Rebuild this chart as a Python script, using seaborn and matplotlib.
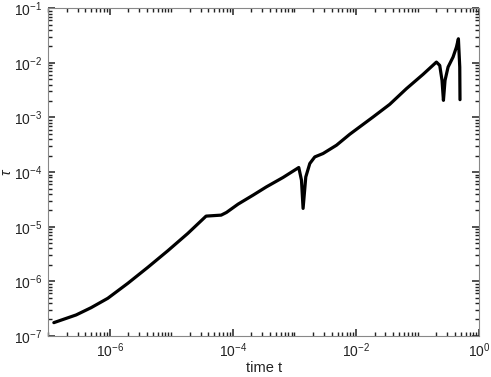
import numpy as np
import pandas as pd
import seaborn as sns
import matplotlib.pyplot as plt
from matplotlib.ticker import LogLocator, NullFormatter

# values (log10 of time t and of tau)
log_t = [-6.907, -6.545, -6.302, -6.031, -5.706, -5.381, -5.057, -4.732, -4.435,
         -4.190, -4.104, -3.916, -3.672, -3.455, -3.185, -2.930, -2.886, -2.860,
         -2.816, -2.751, -2.670, -2.536, -2.318, -2.102, -1.724, -1.453, -1.182,
         -0.912, -0.695, -0.641, -0.604, -0.581, -0.555, -0.506, -0.425, -0.370,
         -0.338, -0.316, -0.312]
log_tau = [-6.757, -6.616, -6.483, -6.311, -6.037, -5.744, -5.441, -5.123, -4.806,
           -4.788, -4.739, -4.587, -4.422, -4.270, -4.098, -3.916, -4.148, -4.665,
           -4.088, -3.843, -3.722, -3.660, -3.508, -3.307, -2.991, -2.759, -2.472,
           -2.210, -1.985, -2.046, -2.320, -2.686, -2.320, -2.077, -1.894, -1.711,
           -1.558, -2.077, -2.673]

df = pd.DataFrame({'t': np.power(10.0, log_t), 'tau': np.power(10.0, log_tau)})

sns.set_style('ticks', {'xtick.direction': 'in', 'ytick.direction': 'in'})
plt.rcParams['font.family'] = ['Liberation Sans', 'DejaVu Sans']
plt.rcParams['mathtext.fontset'] = 'custom'
plt.rcParams['mathtext.rm'] = 'Liberation Sans'
plt.rcParams['mathtext.it'] = 'Liberation Sans:italic'

fig, ax = plt.subplots(figsize=(4.91, 3.77), dpi=100)
fig.subplots_adjust(left=0.098, right=0.976, top=0.978, bottom=0.109)

sns.lineplot(data=df, x='t', y='tau', sort=False, estimator=None,
             color='black', linewidth=2.3, ax=ax)

ax.set_xscale('log')
ax.set_yscale('log')
ax.set_xlim(1e-7, 1e0)
ax.set_ylim(1e-7, 1e-1)
ax.set_xticks([1e-6, 1e-4, 1e-2, 1e0])
ax.set_yticks([10.0 ** k for k in range(-7, 0)])
ax.xaxis.set_minor_locator(LogLocator(base=10, subs=np.arange(1, 10), numticks=20))
ax.yaxis.set_minor_locator(LogLocator(base=10, subs=np.arange(2, 10), numticks=20))
ax.xaxis.set_minor_formatter(NullFormatter())
ax.yaxis.set_minor_formatter(NullFormatter())

for s in ax.spines.values():
    s.set_visible(True)
    s.set_color('#888888')
    s.set_linewidth(0.8)
ax.tick_params(which='both', direction='in', bottom=True, left=True, top=True,
               right=True, color='#222222', labelcolor='#222222')
ax.tick_params(which='major', length=5, width=1.1, pad=4, labelsize=10)
ax.tick_params(which='minor', length=3.2, width=1.0)

ax.set_xlabel('time t', fontsize=10.5, color='#222222', labelpad=1)
ax.set_ylabel(r'$\tau$', fontsize=10.5, color='#222222', labelpad=0)

fig.savefig('out.png', dpi=100)
